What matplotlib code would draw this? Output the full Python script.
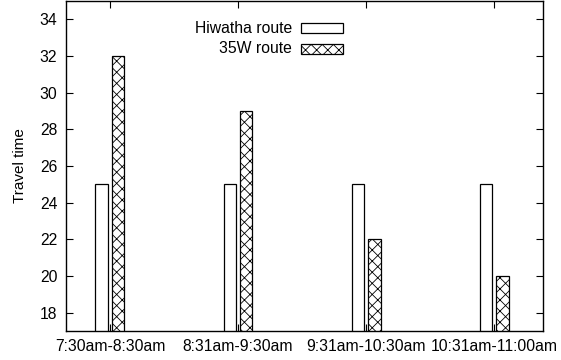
import matplotlib
matplotlib.use('Agg')
import matplotlib.pyplot as plt
from matplotlib.patches import Rectangle

# data
periods = ['7:30am-8:30am', '8:31am-9:30am', '9:31am-10:30am', '10:31am-11:00am']
hiwatha = [25, 25, 25, 25]
route_35w = [32, 29, 22, 20]
yticks = [18, 20, 22, 24, 26, 28, 30, 32, 34]

plt.rcParams['font.family'] = ['Liberation Sans', 'DejaVu Sans']
plt.rcParams['hatch.linewidth'] = 0.6

fig = plt.figure(figsize=(5.61, 3.6), dpi=100)
ax = fig.add_axes([0.117, 0.0806, 0.8515, 0.9164])

x = list(range(len(periods)))
w = 0.1
off = 0.063
ax.bar([i - off for i in x], hiwatha, width=w, color='white',
       edgecolor='black', linewidth=0.9)
ax.bar([i + off for i in x], route_35w, width=w, color='white',
       edgecolor='black', linewidth=0.9, hatch='xxx')

ax.set_xlim(-0.346, 3.384)
ax.set_ylim(17, 35)
ax.set_xticks(x)
ax.set_xticklabels(periods)
ax.set_yticks(yticks)
ax.tick_params(direction='in', length=5, width=0.8, labelsize=11.3,
               top=True, right=True, pad=6)
ax.set_ylabel('Travel time', fontsize=11, labelpad=9)
for s in ax.spines.values():
    s.set_linewidth(1.0)

# key, text to the left of the sample box
keys = [('Hiwatha route', None, 0.918), ('35W route', 'xxx', 0.855)]
for label, hatch, yy in keys:
    ax.text(0.474, yy, label, transform=ax.transAxes, ha='right',
            va='center', fontsize=11.3)
    ax.add_patch(Rectangle((0.492, yy - 0.015), 0.089, 0.030,
                           transform=ax.transAxes, facecolor='white',
                           edgecolor='black', linewidth=0.9, hatch=hatch))

fig.savefig('out.png', dpi=100)
